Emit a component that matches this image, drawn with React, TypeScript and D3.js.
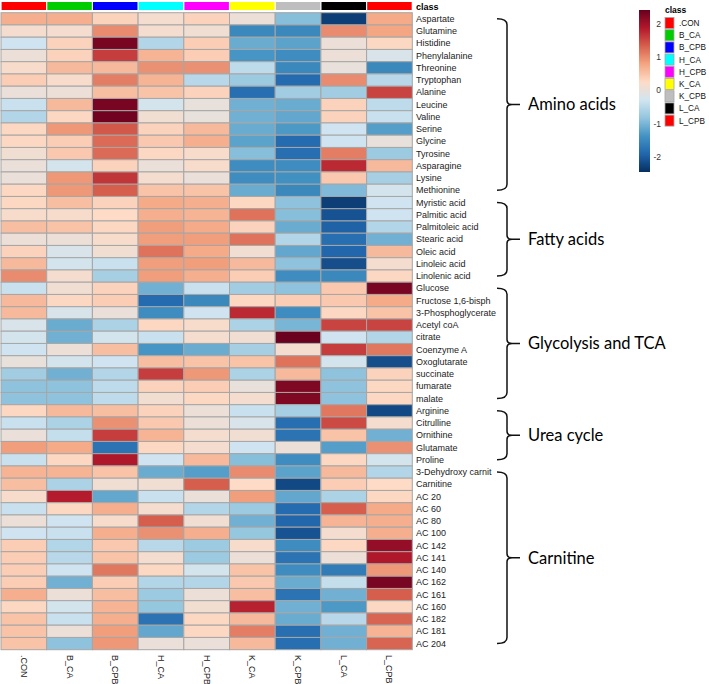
import React from "react";
import * as d3 from "d3";

const samples = [".CON", "B_CA", "B_CPB", "H_CA", "H_CPB", "K_CA", "K_CPB", "L_CA", "L_CPB"];
const classColors = ["#FF0000", "#00CD00", "#0000FF", "#00FFFF", "#FF00FF", "#FFFF00", "#BEBEBE", "#000000", "#FF0000"];

const metabolites = [
  "Aspartate", "Glutamine", "Histidine", "Phenylalanine", "Threonine", "Tryptophan", "Alanine", "Leucine",
  "Valine", "Serine", "Glycine", "Tyrosine", "Asparagine", "Lysine", "Methionine",
  "Myristic acid", "Palmitic acid", "Palmitoleic acid", "Stearic acid", "Oleic acid", "Linoleic acid", "Linolenic acid",
  "Glucose", "Fructose 1,6-bisph", "3-Phosphoglycerate", "Acetyl coA", "citrate", "Coenzyme A", "Oxoglutarate",
  "succinate", "fumarate", "malate",
  "Arginine", "Citrulline", "Ornithine", "Glutamate", "Proline",
  "3-Dehydroxy carnit", "Carnitine", "AC 20", "AC 60", "AC 80", "AC 100", "AC 142", "AC 141", "AC 140",
  "AC 162", "AC 161", "AC 160", "AC 182", "AC 181", "AC 204",
];

// values per metabolite, columns in the order of `samples`
const values = [
  [0.7, 0.7, 0.35, 0.15, 0.35, 0.05, -0.9, -2.3, 0.75],
  [0.15, 0.15, 1.0, 0.15, 0.1, -1.5, -1.5, 1.0, 0.8],
  [-0.3, 0.35, 2.3, -0.55, 0.4, -1.1, -1.2, 0.05, 0.3],
  [0.05, 0.35, 1.6, 0.65, 0.4, -1.35, -1.45, 0.05, -0.2],
  [0.2, 0.6, 0.6, 0.95, 0.95, -0.45, -1.5, 0.0, -1.5],
  [0.4, 0.2, 1.1, 0.65, -0.5, -0.75, -1.85, 1.0, -0.5],
  [0.02, 0.05, 0.55, 0.5, 0.35, -1.8, -0.7, -0.7, 1.55],
  [-0.35, 0.6, 2.3, -0.25, 0.0, -1.05, -1.1, 0.35, -0.45],
  [-0.55, 0.3, 2.35, 0.1, 0.0, -1.05, -1.15, 0.35, -0.35],
  [0.3, 0.9, 1.4, 0.35, 0.6, -1.1, -1.3, -0.3, -1.25],
  [0.3, 0.4, 1.25, 0.45, 0.7, -1.2, -1.85, -0.3, 0.0],
  [0.1, 0.45, 1.25, 0.3, 0.2, -0.9, -1.8, 1.1, -0.75],
  [0.02, -0.25, 0.35, 0.02, 0.2, -1.45, -1.45, 1.75, 0.6],
  [0.02, 0.9, 1.65, 0.15, 0.02, -1.45, -1.4, 0.45, -0.65],
  [0.3, 0.9, 1.35, 0.5, 0.5, -1.1, -1.5, -0.95, -0.25],
  [0.3, 0.55, 0.35, 0.75, 0.7, 0.3, -0.85, -2.3, -0.3],
  [0.2, 0.2, 0.25, 0.7, 0.65, 1.2, -0.9, -2.1, -0.3],
  [0.55, 0.5, 0.3, 0.85, 0.75, 0.35, -1.1, -1.95, -0.55],
  [0.05, 0.05, 0.2, 0.85, 0.85, 1.2, -0.55, -1.8, -1.05],
  [0.35, -0.2, 0.1, 1.2, 0.75, 0.1, -1.15, -1.9, 0.6],
  [0.6, -0.25, -0.35, 0.85, 0.85, 0.6, -0.85, -2.15, 0.15],
  [1.0, 0.15, -0.65, 0.85, 0.7, 0.4, -1.45, -1.5, 0.3],
  [-0.35, 0.1, 0.35, -1.05, -0.35, -0.7, -0.85, 0.45, 2.3],
  [0.6, 0.3, 0.4, -1.85, -1.5, 0.3, 0.4, 0.45, 0.75],
  [0.6, -0.2, 0.02, -1.45, -0.3, 1.75, -1.45, 0.3, 0.5],
  [-0.2, -1.1, -0.6, 0.3, 0.2, -0.6, -1.0, 1.55, 1.55],
  [-0.25, -1.05, -0.25, -0.35, 0.15, 0.1, 2.4, -0.3, -0.55],
  [-0.3, 0.03, 0.55, -1.35, -1.1, -0.65, 0.15, 1.6, 1.15],
  [0.0, -0.25, -0.3, 0.55, 0.5, 0.5, 1.2, -0.25, -2.15],
  [-0.7, -1.05, -0.55, 1.6, 0.9, -0.6, 0.6, -0.85, 0.35],
  [-0.85, -0.85, -0.45, 0.35, 0.4, 0.0, 2.25, -0.85, 0.3],
  [-0.85, -0.85, -0.45, 0.12, 0.3, 0.15, 2.25, -0.85, 0.3],
  [0.3, 0.6, 0.55, 0.35, 0.05, -0.35, -0.65, 1.15, -2.2],
  [-0.35, -0.6, 0.95, 0.45, 0.03, -0.2, -1.8, 1.5, 0.15],
  [0.02, -0.4, 1.6, 0.65, 0.15, 0.1, -1.75, 0.5, -1.05],
  [0.85, 0.75, -1.75, 0.3, 0.15, -0.3, 0.03, -1.25, 0.95],
  [-0.35, 0.3, 1.9, -0.3, 0.6, -0.9, -1.45, 0.3, -0.25],
  [0.65, 0.65, 0.5, -1.1, -1.25, 1.0, -1.2, 0.6, -0.55],
  [0.55, -0.6, 0.1, 0.1, 1.35, 0.25, -2.2, 0.4, 0.25],
  [0.2, 1.85, -1.15, -0.35, 0.02, 0.85, -1.15, -0.6, 0.3],
  [-0.35, 0.3, 0.7, 0.15, -0.55, -0.75, -1.85, 1.35, 0.75],
  [0.05, -0.3, 0.2, 1.35, 0.1, -1.05, -1.9, 0.65, 0.7],
  [-0.3, -0.35, 0.7, 0.95, 0.7, -0.8, -2.1, 0.15, 0.7],
  [0.4, -0.55, 0.45, -0.5, -0.75, 0.2, -1.45, 0.3, 2.1],
  [0.4, -0.5, 0.5, 0.15, -0.75, 0.05, -1.75, 0.05, 1.9],
  [0.4, -0.3, 1.15, 0.3, -0.25, 0.5, -1.45, -1.65, 0.9],
  [0.4, -1.05, 0.4, -0.55, -0.55, 0.45, -1.1, -0.4, 2.3],
  [0.7, 0.05, 0.55, -0.75, 0.03, 0.55, -1.75, -1.05, 1.35],
  [0.3, -0.25, 0.65, -0.8, 0.12, 1.8, -1.05, -1.3, 0.3],
  [0.5, -0.35, 0.7, -1.75, 0.3, 0.6, -1.1, -0.5, 1.3],
  [0.5, 0.03, 0.85, -1.15, 0.3, 1.1, -1.8, -1.05, 0.65],
  [0.5, -0.85, 0.9, 0.02, 0.02, 0.6, -1.8, -1.05, 1.3],
];

const groupNames = ["Amino acids", "Fatty acids", "Glycolysis and TCA", "Urea cycle", "Carnitine"];
const groupFirst = ["Aspartate", "Myristic acid", "Glucose", "Arginine", "3-Dehydroxy carnit"];
const groupLast = ["Methionine", "Linolenic acid", "malate", "Proline", "AC 204"];

const legendTicks = [2, 1, 0, -1, -2];
const valueMin = -2.45;
const valueMax = 2.42;
const rdbu10 = ["#053061", "#2166AC", "#4393C3", "#92C5DE", "#D1E5F0", "#FDDBC7", "#F4A582", "#D6604D", "#B2182B", "#67001F"];

const W = 709;
const H = 684;

export default function App() {
  const x = d3.scaleBand().domain(samples).range([1, 412.3]).padding(0);
  const y = d3.scaleBand().domain(metabolites).range([12.7, 649.7]).padding(0);
  const color = d3
    .scaleLinear<string>()
    .domain(rdbu10.map((_, i) => valueMin + (i * (valueMax - valueMin)) / (rdbu10.length - 1)))
    .range(rdbu10)
    .interpolate(d3.interpolateRgb)
    .clamp(true);

  const barTop = 10;
  const barBottom = 172;
  const legendY = d3.scaleLinear().domain([valueMax, valueMin]).range([barTop, barBottom]);
  const legendRowY = d3.scaleBand().domain(samples).range([17, 17 + 12.2 * samples.length]);

  const labelX = 416;
  const bw = x.bandwidth();
  const bh = y.bandwidth();

  return (
    <svg
      width={W}
      height={H}
      style={{ position: "absolute", left: 0, top: 0, background: "#fff" }}
      fontFamily="'Liberation Sans', Arial, sans-serif"
    >
      <defs>
        <linearGradient id="legGrad" x1="0" y1="0" x2="0" y2="1">
          {rdbu10
            .slice()
            .reverse()
            .map((c, i) => (
              <stop key={i} offset={`${(i / (rdbu10.length - 1)) * 100}%`} stopColor={c} />
            ))}
        </linearGradient>
      </defs>
      <rect x={0} y={0} width={W} height={H} fill="#fff" />

      {/* class annotation bar */}
      {samples.map((s, i) => (
        <rect key={s} x={(x(s) as number) + 0.6} y={2} width={bw - 1.2} height={8} fill={classColors[i]} />
      ))}
      <text x={labelX} y={9.5} fontSize={9} fontWeight="bold" fill="#000">
        class
      </text>

      {/* heatmap cells */}
      {metabolites.map((m, r) =>
        samples.map((s, c) => (
          <rect
            key={m + s}
            x={x(s)}
            y={y(m)}
            width={bw}
            height={bh}
            fill={color(values[r][c])}
            stroke="#A6A6A6"
            strokeWidth={1}
          />
        ))
      )}

      {/* row labels */}
      {metabolites.map((m) => (
        <text
          key={m}
          x={labelX}
          y={(y(m) as number) + bh / 2}
          dy="0.35em"
          fontSize={9}
          fill="#222"
        >
          {m}
        </text>
      ))}

      {/* column labels */}
      {samples.map((s) => {
        const cx = (x(s) as number) + bw / 2;
        const ty = 655;
        return (
          <text
            key={s}
            transform={`translate(${cx - 3},${ty}) rotate(90)`}
            fontSize={9}
            fill="#222"
          >
            {s}
          </text>
        );
      })}

      {/* group braces */}
      {groupNames.map((g, i) => {
        const top = (y(groupFirst[i]) as number) + bh / 2;
        const bot = (y(groupLast[i]) as number) + bh / 2;
        const mid = (top + bot) / 2;
        const xl = 497;
        const xv = 507;
        const path = `M${xl},${top} Q${xv},${top} ${xv},${top + 6} L${xv},${mid - 4} Q${xv},${mid} ${xv + 5},${mid} L520,${mid} M${xv + 5},${mid} Q${xv},${mid} ${xv},${mid + 4} L${xv},${bot - 6} Q${xv},${bot} ${xl},${bot}`;
        return (
          <g key={g}>
            <path d={path} fill="none" stroke="#111" strokeWidth={1.5} />
            <text x={528} y={mid} dy="0.35em" fontSize={16.5} fontFamily="Lato, 'Open Sans', sans-serif" fill="#000">
              {g}
            </text>
          </g>
        );
      })}

      {/* colour legend */}
      <rect x={639} y={barTop} width={11} height={barBottom - barTop} fill="url(#legGrad)" />
      {legendTicks.map((t) => (
        <text key={t} x={661} y={legendY(t)} dy="0.35em" fontSize={8.5} textAnchor="end" fill="#333">
          {t}
        </text>
      ))}

      {/* class legend */}
      <text x={665} y={12.5} fontSize={8.5} fontWeight="bold" fill="#000">
        class
      </text>
      {samples.map((s, i) => (
        <g key={"leg" + s}>
          <rect
            x={665}
            y={(legendRowY(s) as number) + 0.5}
            width={9}
            height={11}
            fill={classColors[i]}
            stroke="#A6A6A6"
            strokeWidth={0.8}
          />
          <text x={679} y={(legendRowY(s) as number) + 6.2} dy="0.35em" fontSize={8.2} fill="#111">
            {s}
          </text>
        </g>
      ))}
    </svg>
  );
}
